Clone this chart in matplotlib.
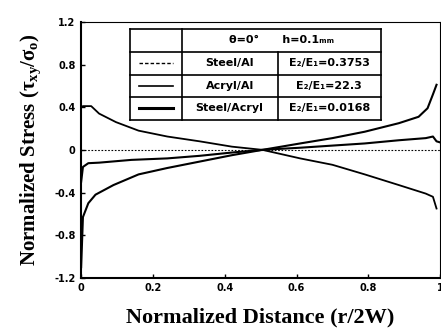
"""Normalized shear stress along the interface for three material pairs."""

import numpy as np
import matplotlib
matplotlib.use("Agg")
import matplotlib.pyplot as plt

plt.rcParams["mathtext.fontset"] = "custom"
plt.rcParams["mathtext.rm"] = "Liberation Serif:bold"
plt.rcParams["mathtext.it"] = "Liberation Serif:bold"
plt.rcParams["mathtext.bf"] = "Liberation Serif:bold"

# r/2W and tau_xy/sigma_0
x_acryl_al = [0.0, 0.005, 0.028, 0.05, 0.097, 0.16, 0.24, 0.33, 0.42, 0.505,
              0.61, 0.70, 0.79, 0.885, 0.96, 0.98, 0.99]
y_acryl_al = [0.40, 0.41, 0.41, 0.34, 0.26, 0.18, 0.125, 0.08, 0.03, 0.0,
              -0.08, -0.14, -0.23, -0.33, -0.41, -0.44, -0.55]

x_steel_acryl = [0.0, 0.005, 0.02, 0.04, 0.09, 0.16, 0.24, 0.33, 0.42, 0.505,
                 0.61, 0.70, 0.79, 0.885, 0.94, 0.965, 0.98, 0.99]
y_steel_acryl = [-1.10, -0.63, -0.50, -0.42, -0.33, -0.23, -0.17, -0.11, -0.05, 0.0,
                 0.06, 0.11, 0.17, 0.25, 0.31, 0.39, 0.52, 0.61]

x_steel_al = [0.0, 0.005, 0.02, 0.05, 0.14, 0.24, 0.33, 0.42, 0.505,
              0.61, 0.70, 0.79, 0.885, 0.96, 0.98, 0.99, 1.0]
y_steel_al = [-0.30, -0.16, -0.125, -0.12, -0.094, -0.08, -0.056, -0.025, 0.0,
              0.02, 0.04, 0.06, 0.09, 0.11, 0.125, 0.08, 0.07]

x_ticks = [0, 0.2, 0.4, 0.6, 0.8, 1.0]
x_tick_labels = ["0", "0.2", "0.4", "0.6", "0.8", "1"]
y_ticks = [-1.2, -0.8, -0.4, 0, 0.4, 0.8, 1.2]
y_tick_labels = ["-1.2", "-0.8", "-0.4", "0", "0.4", "0.8", "1.2"]

legend_names = ["Steel/Al", "Acryl/Al", "Steel/Acryl"]
legend_ratios = ["E₂/E₁=0.3753", "E₂/E₁=22.3", "E₂/E₁=0.0168"]

fig = plt.figure(figsize=(4.41, 3.36), dpi=100)
ax = fig.add_axes([0.184, 0.173, 0.814, 0.762])

ax.axhline(0, color="black", linestyle=(0, (1.5, 1.5)), linewidth=0.8)
ax.plot(x_acryl_al, y_acryl_al, color="black", linewidth=1.3)
ax.plot(x_steel_acryl, y_steel_acryl, color="black", linewidth=1.5)
ax.plot(x_steel_al, y_steel_al, color="black", linewidth=1.5)

ax.set_xlim(0, 1.0)
ax.set_ylim(-1.2, 1.2)
ax.set_xticks(x_ticks)
ax.set_xticklabels(x_tick_labels)
ax.set_yticks(y_ticks)
ax.set_yticklabels(y_tick_labels)
ax.tick_params(direction="in", length=3, width=1, labelsize=7, pad=4)
for lab in ax.get_xticklabels() + ax.get_yticklabels():
    lab.set_fontweight("bold")
for side in ["left", "bottom"]:
    ax.spines[side].set_linewidth(1.5)
ax.spines["top"].set_linewidth(0.8)
ax.spines["right"].set_linewidth(0.8)

serif = {"family": "Liberation Serif", "weight": "bold", "size": 16}
ax.set_xlabel("Normalized Distance (r/2W)", fontdict=serif, labelpad=10)
ax.set_ylabel(r"Normalized Stress ($\tau_{xy}/\sigma_o$)",
              fontdict=dict(serif, size=15), labelpad=8)

# table-style legend drawn in axes coordinates
tr = ax.transAxes
x0, x1, x2, x3 = 0.136, 0.28, 0.547, 0.836
rows = [0.973, 0.883, 0.793, 0.707, 0.617]
for y in rows:
    ax.plot([x0, x3], [y, y], transform=tr, color="black", lw=1.2, clip_on=False)
for x in [x0, x3]:
    ax.plot([x, x], [rows[0], rows[-1]], transform=tr, color="black", lw=1.2)
ax.plot([x1, x1], [rows[0], rows[-1]], transform=tr, color="black", lw=1.2)
ax.plot([x2, x2], [rows[1], rows[-1]], transform=tr, color="black", lw=1.2)

ax.text((x1 + x3) / 2, (rows[0] + rows[1]) / 2,
        "θ=0°      h=0.1ₘₘ", transform=tr,
        ha="center", va="center", fontsize=8, fontweight="bold")
styles = [((0, (2.5, 1.5)), 1.0), ("-", 1.2), ("-", 2.2)]
for i in range(3):
    yc = (rows[i + 1] + rows[i + 2]) / 2
    ls, lw = styles[i]
    ax.plot([x0 + 0.025, x1 - 0.025], [yc, yc], transform=tr,
            color="black", linestyle=ls, linewidth=lw)
    ax.text((x1 + x2) / 2, yc, legend_names[i], transform=tr,
            ha="center", va="center", fontsize=8, fontweight="bold")
    ax.text((x2 + x3) / 2, yc, legend_ratios[i], transform=tr,
            ha="center", va="center", fontsize=8, fontweight="bold")

fig.savefig("out.png", dpi=100)
